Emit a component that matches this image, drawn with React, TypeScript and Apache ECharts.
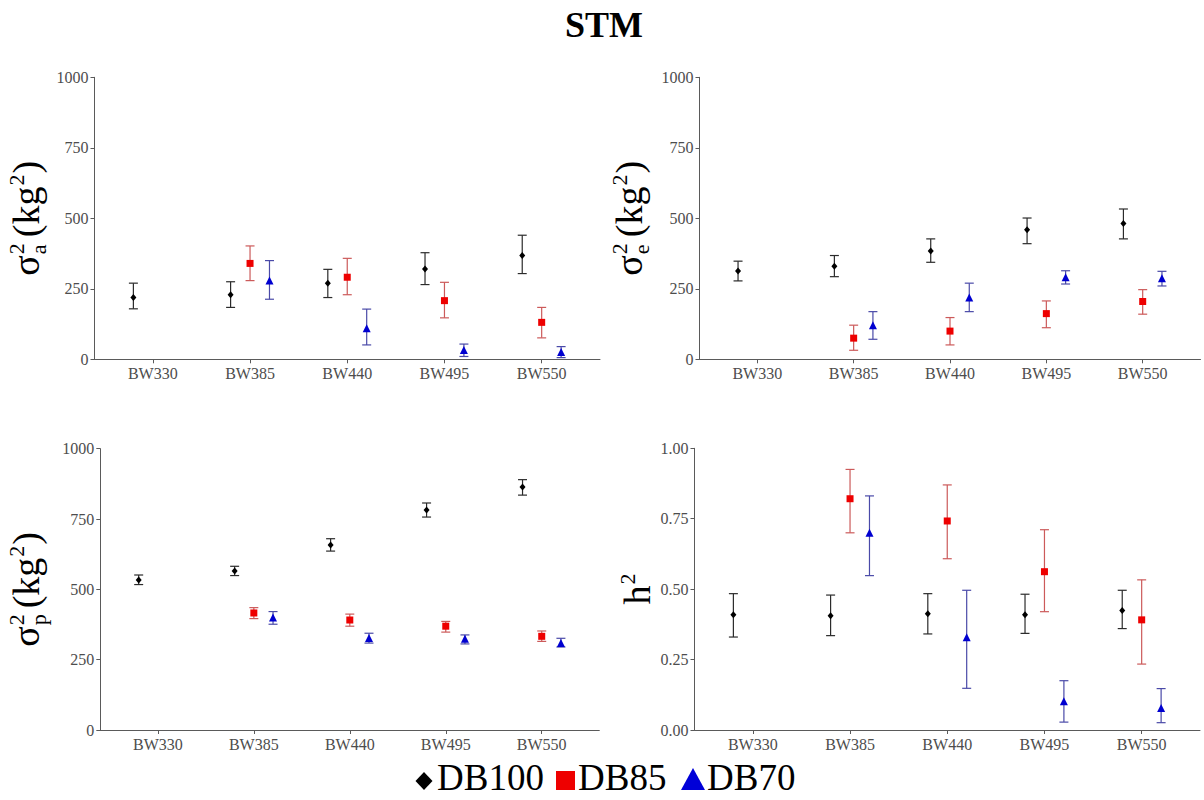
import React, { useEffect, useRef } from "react";
import * as echarts from "echarts";

const FONT = "Liberation Serif";

const categories = ["BW330", "BW385", "BW440", "BW495", "BW550"];
const groups = ["DB100", "DB85", "DB70"];

// Panel 1: additive variance (kg^2)
const saDB100 = [219, 229, 270, 320, 368];
const saDB100Lo = [179, 184, 219, 265, 304];
const saDB100Hi = [270, 275, 319, 378, 440];
const saDB85 = [null, 340, 291, 208, 131];
const saDB85Lo = [null, 279, 229, 147, 76];
const saDB85Hi = [null, 402, 358, 273, 184];
const saDB70 = [null, 279, 110, 33, 26];
const saDB70Lo = [null, 213, 51, 10, 6];
const saDB70Hi = [null, 350, 178, 54, 45];

// Panel 2: residual variance (kg^2)
const seDB100 = [313, 330, 384, 459, 482];
const seDB100Lo = [278, 293, 344, 410, 427];
const seDB100Hi = [348, 368, 427, 501, 533];
const seDB85 = [null, 75, 100, 162, 205];
const seDB85Lo = [null, 32, 51, 112, 160];
const seDB85Hi = [null, 121, 148, 207, 247];
const seDB70 = [null, 121, 219, 291, 287];
const seDB70Lo = [null, 71, 169, 267, 260];
const seDB70Hi = [null, 169, 270, 314, 312];

// Panel 3: phenotypic variance (kg^2)
const spDB100 = [533, 565, 658, 782, 864];
const spDB100Lo = [517, 549, 636, 757, 835];
const spDB100Hi = [551, 582, 680, 807, 890];
const spDB85 = [null, 416, 391, 369, 333];
const spDB85Lo = [null, 396, 369, 348, 315];
const spDB85Hi = [null, 435, 412, 386, 352];
const spDB70 = [null, 400, 327, 324, 309];
const spDB70Lo = [null, 376, 309, 306, 295];
const spDB70Hi = [null, 421, 344, 338, 326];

// Panel 4: heritability
const h2DB100 = [0.409, 0.406, 0.413, 0.409, 0.424];
const h2DB100Lo = [0.33, 0.335, 0.341, 0.343, 0.36];
const h2DB100Hi = [0.484, 0.479, 0.484, 0.482, 0.496];
const h2DB85 = [null, 0.821, 0.742, 0.562, 0.391];
const h2DB85Lo = [null, 0.7, 0.608, 0.42, 0.234];
const h2DB85Hi = [null, 0.925, 0.87, 0.711, 0.533];
const h2DB70 = [null, 0.7, 0.329, 0.102, 0.078];
const h2DB70Lo = [null, 0.548, 0.148, 0.028, 0.026];
const h2DB70Hi = [null, 0.831, 0.496, 0.175, 0.147];

const varTicks = [0, 250, 500, 750, 1000];
const h2Ticks = [0, 0.25, 0.5, 0.75, 1];

const panelData = [
  [[saDB100, saDB100Lo, saDB100Hi], [saDB85, saDB85Lo, saDB85Hi], [saDB70, saDB70Lo, saDB70Hi]],
  [[seDB100, seDB100Lo, seDB100Hi], [seDB85, seDB85Lo, seDB85Hi], [seDB70, seDB70Lo, seDB70Hi]],
  [[spDB100, spDB100Lo, spDB100Hi], [spDB85, spDB85Lo, spDB85Hi], [spDB70, spDB70Lo, spDB70Hi]],
  [[h2DB100, h2DB100Lo, h2DB100Hi], [h2DB85, h2DB85Lo, h2DB85Hi], [h2DB70, h2DB70Lo, h2DB70Hi]],
];
const panelTicks = [varTicks, varTicks, varTicks, h2Ticks];

const grids = [
  { left: 94.5, top: 77.3, width: 505.5, height: 282 },
  { left: 699.5, top: 77.3, width: 501, height: 282 },
  { left: 100.3, top: 448.7, width: 499, height: 281.3 },
  { left: 694.5, top: 448.3, width: 505.5, height: 281.7 },
];

const OFFSETS = [-0.2, 0, 0.2];
const POINT_COLORS = ["#000000", "#ee0000", "#0000d0"];
const BAR_COLORS = ["#2b2b2b", "#cc5a5a", "#4a4aa8"];
const SYMBOLS = ["diamond", "rect", "triangle"];
const SYMBOL_SIZES: any[] = [[6, 7], 7, 8];

let measureCtx: CanvasRenderingContext2D | null = null;
function tw(text: string, fs: number) {
  if (!measureCtx) measureCtx = document.createElement("canvas").getContext("2d");
  measureCtx!.font = `${fs}px "Liberation Serif"`;
  return measureCtx!.measureText(text).width;
}

const CENTRAL = 0.3375;

function rotatedLabel(cx: number, cy: number, kind: "sigma" | "h", sub = "") {
  const F = 38;
  const S = 22;
  const children: any[] = [];
  let cur = 0;
  const add = (t: string, fs: number, base: number) => {
    children.push({
      type: "text",
      x: cur,
      y: base - CENTRAL * fs,
      style: { text: t, fontSize: fs, fontFamily: FONT, fill: "#000", align: "left", verticalAlign: "middle" },
    });
  };
  if (kind === "sigma") {
    add("σ", F, 0);
    cur += tw("σ", F) + 1;
    add("2", S, -15);
    add(sub, S, 7);
    cur += Math.max(tw("2", S), tw(sub, S)) + 6;
    add("(kg", F, 0);
    cur += tw("(kg", F) + 1;
    add("2", S, -15);
    cur += tw("2", S) + 1;
    add(")", F, 0);
    cur += tw(")", F);
  } else {
    add("h", F, 0);
    cur += tw("h", F) + 1;
    add("2", S, -15);
    cur += tw("2", S);
  }
  children.forEach((c) => (c.x -= cur / 2));
  return { type: "group", x: cx, y: cy, rotation: Math.PI / 2, children };
}

const LEGEND_FS = 37;
const LEGEND_BASE = 790;

function legendText(x: number, text: string) {
  return {
    type: "text",
    x,
    y: LEGEND_BASE - CENTRAL * LEGEND_FS,
    style: { text, fontSize: LEGEND_FS, lineHeight: 30, fontFamily: FONT, fill: "#000", align: "left", verticalAlign: "middle" },
  };
}

function buildOption() {
  const xAxis: any[] = [];
  const yAxis: any[] = [];
  const series: any[] = [];
  const axisColor = "#5a5a5a";
  const labelColor = "#4d4d4d";

  grids.forEach((g, i) => {
    xAxis.push({
      type: "value",
      gridIndex: i,
      min: 0.4,
      max: 5.6,
      splitLine: { show: false },
      axisLine: { show: true, onZero: false, lineStyle: { color: axisColor, width: 1 } },
      axisTick: { show: true, length: 4, customValues: [1, 2, 3, 4, 5], lineStyle: { color: axisColor } },
      axisLabel: {
        customValues: [1, 2, 3, 4, 5],
        formatter: (v: number) => categories[Math.round(v) - 1],
        color: labelColor,
        fontSize: 16,
        fontFamily: FONT,
        margin: 6,
      },
    });
    const ticks = panelTicks[i];
    const isH = i === 3;
    yAxis.push({
      type: "value",
      gridIndex: i,
      min: ticks[0],
      max: ticks[ticks.length - 1],
      interval: ticks[1] - ticks[0],
      splitLine: { show: false },
      axisLine: { show: true, onZero: false, lineStyle: { color: axisColor, width: 1 } },
      axisTick: { show: true, length: 4, lineStyle: { color: axisColor } },
      axisLabel: {
        color: labelColor,
        fontSize: 16,
        fontFamily: FONT,
        margin: 6,
        formatter: (v: number) => (isH ? v.toFixed(2) : String(v)),
      },
    });

    panelData[i].forEach(([mean, lo, hi], gi) => {
      const pts: any[] = [];
      const bars: any[] = [];
      mean.forEach((m: any, k: number) => {
        if (m == null) return;
        const x = k + 1 + OFFSETS[gi];
        pts.push([x, m]);
        bars.push([x, lo[k], hi[k]]);
      });
      const barColor = BAR_COLORS[gi];
      series.push({
        type: "custom",
        name: groups[gi],
        xAxisIndex: i,
        yAxisIndex: i,
        silent: true,
        z: 2,
        encode: { x: 0, y: [1, 2] },
        data: bars,
        renderItem: (_p: any, api: any) => {
          const x = api.value(0);
          const a = api.coord([x, api.value(1)]);
          const b = api.coord([x, api.value(2)]);
          const hw = 4.5;
          const st = { stroke: barColor, lineWidth: 1.2 };
          return {
            type: "group",
            children: [
              { type: "line", shape: { x1: a[0], y1: a[1], x2: b[0], y2: b[1] }, style: st },
              { type: "line", shape: { x1: a[0] - hw, y1: a[1], x2: a[0] + hw, y2: a[1] }, style: st },
              { type: "line", shape: { x1: b[0] - hw, y1: b[1], x2: b[0] + hw, y2: b[1] }, style: st },
            ],
          };
        },
      });
      series.push({
        type: "scatter",
        name: groups[gi],
        xAxisIndex: i,
        yAxisIndex: i,
        z: 3,
        symbol: SYMBOLS[gi],
        symbolSize: SYMBOL_SIZES[gi],
        itemStyle: { color: POINT_COLORS[gi], opacity: 1 },
        data: pts,
      });
    });
  });

  const lb = LEGEND_BASE;
  const graphic: any[] = [
    {
      type: "text",
      x: 604,
      y: 37 - CENTRAL * 36,
      style: { text: "STM", fontSize: 36, fontWeight: "bold", fontFamily: FONT, fill: "#000", align: "center", verticalAlign: "middle" },
    },
    rotatedLabel(39, 218.3, "sigma", "a"),
    rotatedLabel(642, 218.3, "sigma", "e"),
    rotatedLabel(39, 589.4, "sigma", "p"),
    rotatedLabel(650, 589, "h"),
    // legend
    { type: "polygon", shape: { points: [[424, lb - 18], [432.5, lb - 9], [424, lb], [415.5, lb - 9]] }, style: { fill: "#000" } },
    legendText(437, "DB100"),
    { type: "rect", shape: { x: 556, y: lb - 19, width: 19, height: 19 }, style: { fill: "#ee0000" } },
    legendText(578, "DB85"),
    { type: "polygon", shape: { points: [[693, lb - 22], [705, lb], [681, lb]] }, style: { fill: "#0000d8" } },
    legendText(707, "DB70"),
  ];

  return {
    animation: false,
    backgroundColor: "#ffffff",
    textStyle: { fontFamily: FONT },
    grid: grids.map((g) => ({ ...g, containLabel: false })),
    xAxis,
    yAxis,
    series,
    graphic,
  };
}

export default function App() {
  const ref = useRef<HTMLDivElement>(null);
  useEffect(() => {
    if (!ref.current) return;
    const chart = echarts.init(ref.current, undefined, { renderer: "svg" });
    chart.setOption(buildOption() as any);
    return () => chart.dispose();
  }, []);
  return (
    <div
      ref={ref}
      style={{ position: "absolute", left: 0, top: 0, width: 1204, height: 800, background: "#fff" }}
    />
  );
}
